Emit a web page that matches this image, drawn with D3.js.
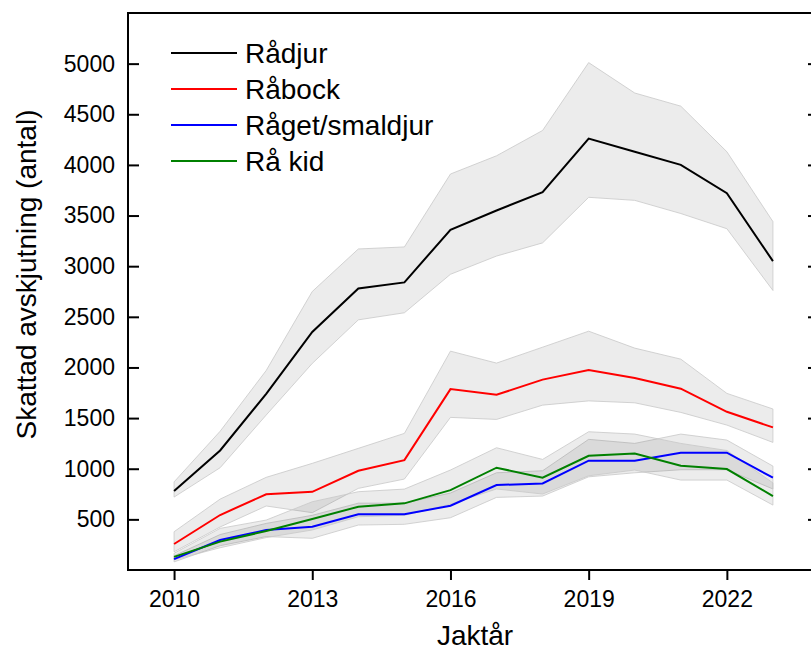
<!DOCTYPE html>
<html>
<head>
<meta charset="utf-8">
<script src="https://cdn.jsdelivr.net/npm/d3@7"></script>
<style>
  body { margin: 0; background: #fff; }
  svg { display: block; font-family: "Liberation Sans", Arial, sans-serif; }
</style>
</head>
<body>
<div id="plot-container"></div>
<script>
// skattad avskjutning per jaktår
const years = [2010, 2011, 2012, 2013, 2014, 2015, 2016, 2017, 2018, 2019, 2020, 2021, 2022, 2023];

const radjur   = [780, 1180, 1740, 2350, 2780, 2840, 3360, 3550, 3730, 4260, 4130, 4000, 3720, 3050];
const radjurLo = [720, 1010, 1530, 2040, 2470, 2540, 2920, 3100, 3230, 3680, 3650, 3520, 3370, 2760];
const radjurHi = [870, 1370, 1970, 2750, 3170, 3190, 3910, 4090, 4340, 5010, 4710, 4580, 4130, 3440];

const rabock   = [257, 543, 748, 772, 980, 1085, 1786, 1730, 1880, 1975, 1895, 1790, 1562, 1408];
const rabockLo = [180, 425, 632, 566, 806, 898, 1507, 1487, 1628, 1670, 1651, 1556, 1431, 1260];
const rabockHi = [378, 700, 915, 1053, 1201, 1349, 2161, 2043, 2200, 2358, 2191, 2082, 1744, 1590];

const raget   = [108, 296, 395, 427, 550, 550, 635, 839, 855, 1080, 1080, 1158, 1158, 911];
const ragetLo = [80, 240, 330, 313, 444, 451, 516, 717, 730, 920, 960, 990, 990, 800];
const ragetHi = [140, 350, 460, 540, 660, 660, 760, 960, 980, 1290, 1250, 1342, 1283, 1026];

const rakid   = [130, 280, 385, 503, 625, 658, 789, 1010, 911, 1128, 1151, 1029, 997, 730];
const rakidLo = [100, 220, 320, 395, 526, 540, 650, 800, 750, 930, 987, 888, 888, 641];
const rakidHi = [165, 411, 493, 674, 773, 799, 987, 1207, 1092, 1365, 1342, 1250, 1180, 860];

const seriesNames = ['Rådjur', 'Råbock', 'Råget/smaldjur', 'Rå kid'];
const seriesColors = ['#000000', '#ff0000', '#0000ff', '#008000'];
const xTicks = [2010, 2013, 2016, 2019, 2022];
const yTicks = [500, 1000, 1500, 2000, 2500, 3000, 3500, 4000, 4500, 5000];

const series = [
  { name: seriesNames[0], color: seriesColors[0], mid: radjur, lo: radjurLo, hi: radjurHi },
  { name: seriesNames[1], color: seriesColors[1], mid: rabock, lo: rabockLo, hi: rabockHi },
  { name: seriesNames[2], color: seriesColors[2], mid: raget, lo: ragetLo, hi: ragetHi },
  { name: seriesNames[3], color: seriesColors[3], mid: rakid, lo: rakidLo, hi: rakidHi }
];

const canvasWidth = 811;
const canvasHeight = 652;
const plotLeft = 128, plotRight = 819, plotTop = 13, plotBottom = 570;

const svg = d3.select('#plot-container')
  .append('svg')
  .attr('width', canvasWidth)
  .attr('height', canvasHeight);

const x = d3.scaleLinear().domain([2009, 2024]).range([plotLeft, plotRight]);
const y = d3.scaleLinear().domain([0, 5500]).range([plotBottom, plotTop]);

// konfidensband
const area = d3.area()
  .x((d, i) => x(years[i]))
  .y0(d => y(d[0]))
  .y1(d => y(d[1]));

series.forEach(s => {
  svg.append('path')
    .attr('d', area(s.lo.map((v, i) => [v, s.hi[i]])))
    .attr('fill', '#000')
    .attr('fill-opacity', 0.075)
    .attr('stroke', '#c8c8c8')
    .attr('stroke-opacity', 0.8)
    .attr('stroke-width', 1);
});

const line = d3.line()
  .x((d, i) => x(years[i]))
  .y(d => y(d));

series.forEach(s => {
  svg.append('path')
    .attr('d', line(s.mid))
    .attr('fill', 'none')
    .attr('stroke', s.color)
    .attr('stroke-width', 2);
});

// axlar
const yAxis = d3.axisLeft(y).tickValues(yTicks).tickSize(-11).tickPadding(13).tickFormat(d3.format('d'));
const yAxisR = d3.axisRight(y).tickValues(yTicks).tickSize(-11).tickFormat('');
const xAxis = d3.axisBottom(x).tickValues(xTicks).tickSize(10).tickPadding(11).tickFormat(d3.format('d'));

const gy = svg.append('g').attr('transform', `translate(${plotLeft},0)`).call(yAxis);
const gyr = svg.append('g').attr('transform', `translate(${plotRight},0)`).call(yAxisR);
const gx = svg.append('g').attr('transform', `translate(0,${plotBottom})`).call(xAxis);

[gy, gyr, gx].forEach(g => {
  g.select('.domain').remove();
  g.selectAll('.tick line').attr('stroke', '#000').attr('stroke-width', 2);
  g.selectAll('.tick text')
    .attr('fill', '#000')
    .style('font-size', '23px')
    .style('font-family', '"Liberation Sans", Arial, sans-serif');
});

svg.append('rect')
  .attr('x', plotLeft)
  .attr('y', plotTop)
  .attr('width', plotRight - plotLeft)
  .attr('height', plotBottom - plotTop)
  .attr('fill', 'none')
  .attr('stroke', '#000')
  .attr('stroke-width', 2);

// axeltitlar
svg.append('text')
  .attr('transform', `translate(36,${(plotTop + plotBottom) / 2 - 17}) rotate(-90)`)
  .attr('text-anchor', 'middle')
  .style('font-size', '28px')
  .text('Skattad avskjutning (antal)');

svg.append('text')
  .attr('x', 475)
  .attr('y', 645)
  .attr('text-anchor', 'middle')
  .style('font-size', '28px')
  .text('Jaktår');

// legend
const legend = svg.append('g');
series.forEach((s, i) => {
  const ly = 53 + i * 36;
  legend.append('line')
    .attr('x1', 171).attr('x2', 237)
    .attr('y1', ly).attr('y2', ly)
    .attr('stroke', s.color)
    .attr('stroke-width', 2);
  legend.append('text')
    .attr('x', 245)
    .attr('y', ly + 10)
    .style('font-size', '28px')
    .text(s.name);
});
</script>
</body>
</html>
